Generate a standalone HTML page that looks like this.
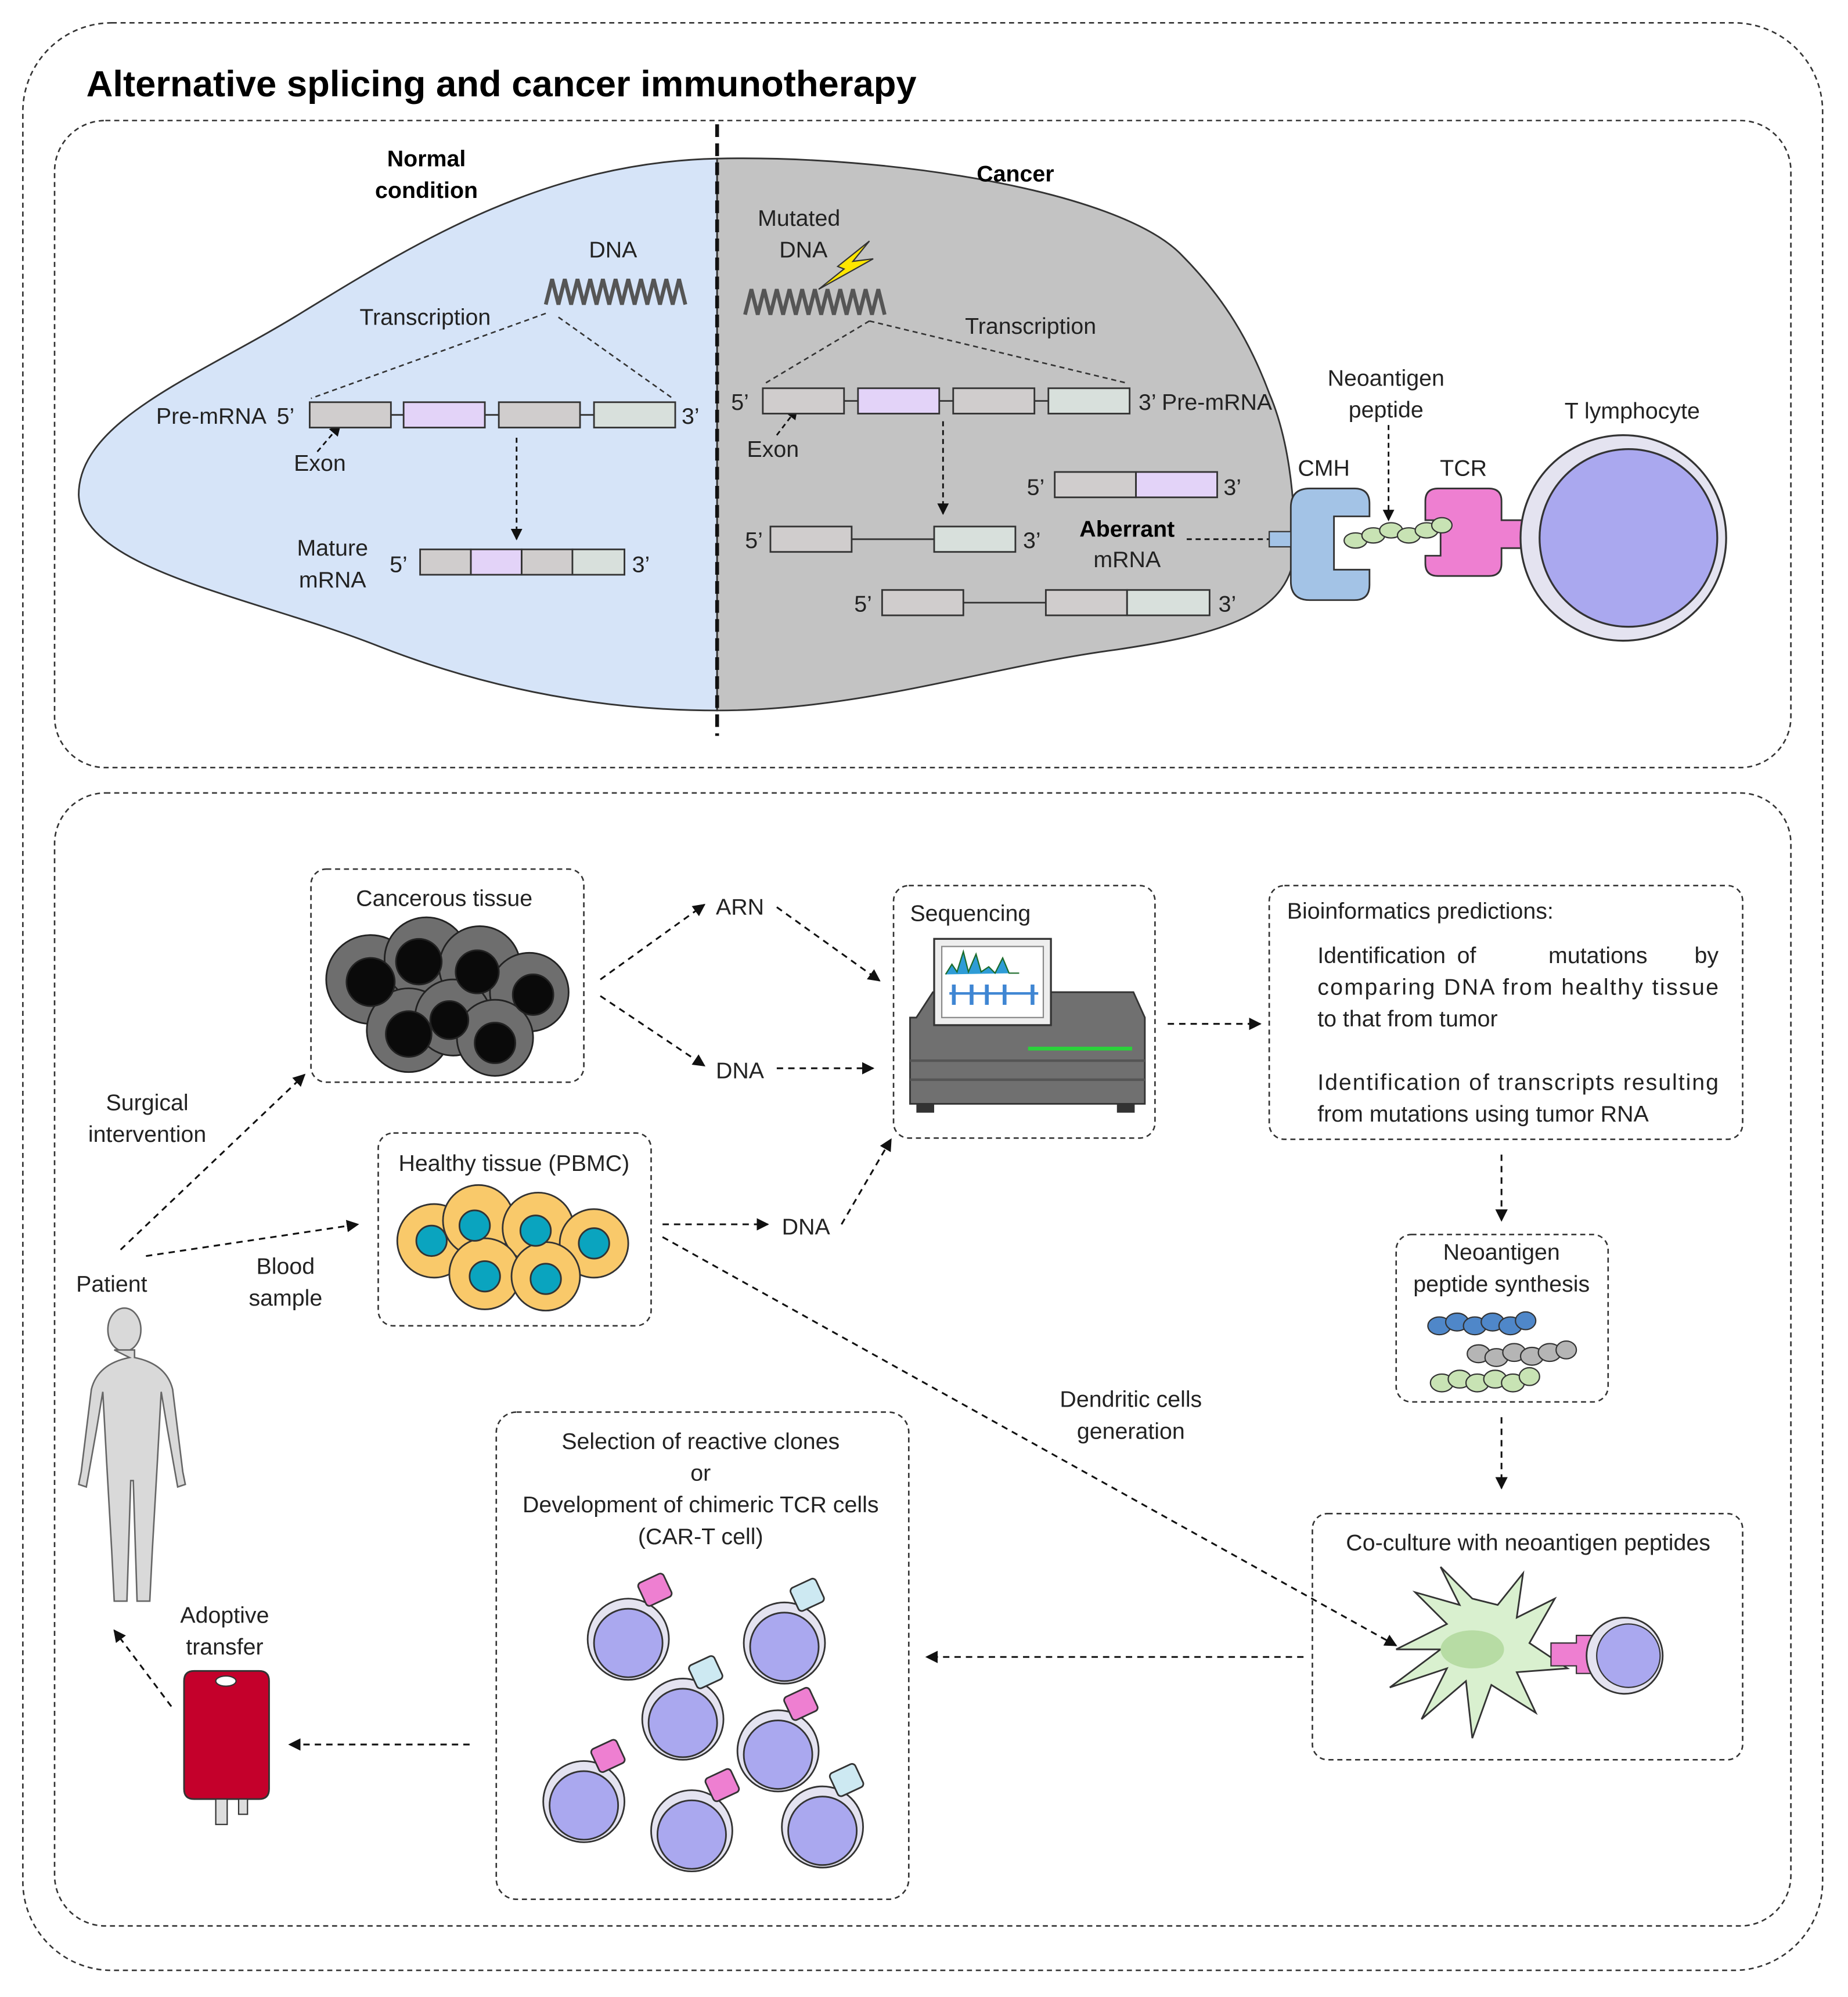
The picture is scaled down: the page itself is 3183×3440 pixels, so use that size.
<!DOCTYPE html>
<html><head><meta charset="utf-8"><style>
html,body{margin:0;padding:0;background:#fff}
svg{display:block}
text{font-family:"Liberation Sans",sans-serif;fill:#222}
</style></head><body>
<svg width="3183" height="3440" viewBox="0 0 1456 1574" preserveAspectRatio="none" xmlns="http://www.w3.org/2000/svg">
<defs>
<marker id="ah" viewBox="0 0 10 10" refX="9" refY="5" markerWidth="7" markerHeight="7" orient="auto"><path d="M0,0 L10,5 L0,10 z" fill="#111"/></marker>
</defs>
<g fill="none" stroke="#333" stroke-width="1.2" stroke-dasharray="4,3">
<rect x="18" y="18" width="1418" height="1535" rx="70"/>
<rect x="43" y="95" width="1368" height="510" rx="40"/>
<rect x="43" y="625" width="1368" height="893" rx="40"/>
</g>
<text x="68" y="76" font-size="29" font-weight="bold" style="fill:#000">Alternative splicing and cancer immunotherapy</text>

<path d="M565,125 C430,128 330,190 240,245 C160,295 62,330 62,390 C64,450 200,470 300,510 C390,545 480,560 565,560 Z" fill="#d6e4f8" stroke="#333" stroke-width="1.3"/>
<path d="M565,125 C700,122 880,150 930,200 C965,235 985,270 1000,310 C1015,345 1020,390 1020,430 C1020,485 960,500 880,512 C780,525 680,560 565,560 Z" fill="#c3c3c3" stroke="#333" stroke-width="1.3"/>
<line x1="565" y1="98" x2="565" y2="580" stroke="#111" stroke-width="3" stroke-dasharray="10,5"/>

<g font-size="18">
<text x="336" y="131" text-anchor="middle" font-weight="bold" style="fill:#000">Normal</text>
<text x="336" y="156" text-anchor="middle" font-weight="bold" style="fill:#000">condition</text>
<text x="800" y="143" text-anchor="middle" font-weight="bold" style="fill:#000">Cancer</text>
<text x="483" y="203" text-anchor="middle">DNA</text>
<text x="335" y="256" text-anchor="middle">Transcription</text>
<text x="123" y="334">Pre-mRNA</text><text x="218" y="334">5’</text><text x="537" y="334">3’</text>
<text x="252" y="371" text-anchor="middle">Exon</text>
<text x="262" y="438" text-anchor="middle">Mature</text>
<text x="262" y="463" text-anchor="middle">mRNA</text>
<text x="307" y="451">5’</text><text x="498" y="451">3’</text>
<text x="597" y="178">Mutated</text><text x="614" y="203">DNA</text>
<text x="812" y="263" text-anchor="middle">Transcription</text>
<text x="576" y="323">5’</text><text x="897" y="323">3’ Pre-mRNA</text>
<text x="609" y="360" text-anchor="middle">Exon</text>
<text x="809" y="390">5’</text><text x="964" y="390">3’</text>
<text x="587" y="432">5’</text><text x="806" y="432">3’</text>
<text x="888" y="423" text-anchor="middle" font-weight="bold" style="fill:#000">Aberrant</text>
<text x="888" y="447" text-anchor="middle">mRNA</text>
<text x="673" y="482">5’</text><text x="960" y="482">3’</text>
<text x="1092" y="304" text-anchor="middle">Neoantigen</text>
<text x="1092" y="329" text-anchor="middle">peptide</text>
<text x="1286" y="330" text-anchor="middle">T lymphocyte</text>
<text x="1043" y="375" text-anchor="middle">CMH</text>
<text x="1153" y="375" text-anchor="middle">TCR</text>
</g>

<path d="M430,240 l5,-20 l5,20 l5,-20 l5,20 l5,-20 l5,20 l5,-20 l5,20 l5,-20 l5,20 l5,-20 l5,20 l5,-20 l5,20 l5,-20 l5,20 l5,-20 l5,20 l5,-20 l5,20 l5,-20 l5,20" fill="none" stroke="#555" stroke-width="3"/>
<path d="M587,248 l5,-20 l5,20 l5,-20 l5,20 l5,-20 l5,20 l5,-20 l5,20 l5,-20 l5,20 l5,-20 l5,20 l5,-20 l5,20 l5,-20 l5,20 l5,-20 l5,20 l5,-20 l5,20 l5,-20 l5,20" fill="none" stroke="#555" stroke-width="3"/>
<path d="M660,210 L685,190 L672,206 L688,204 L645,228 L665,212 Z" fill="#ffe600" stroke="#333" stroke-width="1"/>

<g stroke="#333" stroke-width="1.2" fill="none" stroke-dasharray="4,3">
<line x1="430" y1="247" x2="245" y2="314"/><line x1="440" y1="250" x2="530" y2="314"/>
<line x1="685" y1="253" x2="603" y2="302"/><line x1="685" y1="253" x2="888" y2="302"/>
</g>
<g stroke="#111" stroke-width="1.3" fill="none" stroke-dasharray="4,3">
<line x1="407" y1="345" x2="407" y2="425" marker-end="url(#ah)"/>
<line x1="743" y1="332" x2="743" y2="405" marker-end="url(#ah)"/>
<line x1="250" y1="356" x2="268" y2="335" marker-end="url(#ah)"/>
<line x1="612" y1="343" x2="628" y2="322" marker-end="url(#ah)"/>
<line x1="935" y1="425" x2="1037" y2="425" marker-end="url(#ah)"/>
<line x1="1094" y1="335" x2="1094" y2="410" marker-end="url(#ah)"/>
</g>

<g stroke="#333" stroke-width="1.3">
<line x1="244" y1="327" x2="532" y2="327"/>
<rect x="244" y="317" width="64" height="20" fill="#d0cdcd"/><rect x="318" y="317" width="64" height="20" fill="#e3d3f8"/>
<rect x="393" y="317" width="64" height="20" fill="#d0cdcd"/><rect x="468" y="317" width="64" height="20" fill="#d8e0dc"/>
<rect x="331" y="433" width="40" height="20" fill="#d0cdcd"/><rect x="371" y="433" width="40" height="20" fill="#e3d3f8"/>
<rect x="411" y="433" width="40" height="20" fill="#d0cdcd"/><rect x="451" y="433" width="41" height="20" fill="#d8e0dc"/>
<line x1="601" y1="316" x2="890" y2="316"/>
<rect x="601" y="306" width="64" height="20" fill="#d0cdcd"/><rect x="676" y="306" width="64" height="20" fill="#e3d3f8"/>
<rect x="751" y="306" width="64" height="20" fill="#d0cdcd"/><rect x="826" y="306" width="64" height="20" fill="#d8e0dc"/>
<rect x="831" y="372" width="64" height="20" fill="#d0cdcd"/><rect x="895" y="372" width="64" height="20" fill="#e3d3f8"/>
<line x1="607" y1="425" x2="800" y2="425"/>
<rect x="607" y="415" width="64" height="20" fill="#d0cdcd"/><rect x="736" y="415" width="64" height="20" fill="#d8e0dc"/>
<line x1="695" y1="475" x2="953" y2="475"/>
<rect x="695" y="465" width="64" height="20" fill="#d0cdcd"/><rect x="824" y="465" width="64" height="20" fill="#d0cdcd"/><rect x="888" y="465" width="65" height="20" fill="#d8e0dc"/>
</g>

<path d="M1017,400 q0,-15 15,-15 h35 q12,0 12,12 v10 h-28 v42 h28 v12 q0,12 -12,12 h-35 q-15,0 -15,-15 z" fill="#a3c3e6" stroke="#333" stroke-width="1.3"/>
<rect x="1000" y="419" width="17" height="12" fill="#a3c3e6" stroke="#333"/>
<path d="M1123,395 q0,-10 10,-10 h40 q10,0 10,10 v15 h25 v22 h-25 v12 q0,10 -10,10 h-40 q-10,0 -10,-10 v-6 h12 v-28 h-12 z" fill="#ee7fd1" stroke="#333" stroke-width="1.3"/>
<g fill="#c8e3b4" stroke="#333" stroke-width="1">
<ellipse cx="1068" cy="426" rx="9" ry="6"/><ellipse cx="1082" cy="422" rx="9" ry="6"/><ellipse cx="1096" cy="418" rx="9" ry="6"/><ellipse cx="1110" cy="422" rx="9" ry="6"/><ellipse cx="1124" cy="418" rx="9" ry="6"/><ellipse cx="1136" cy="414" rx="8" ry="6"/>
</g>
<circle cx="1279" cy="424" r="81" fill="#e4e3f0" stroke="#333" stroke-width="1.5"/>
<circle cx="1283" cy="424" r="70" fill="#aaa8ef" stroke="#333" stroke-width="1.5"/>

<g fill="none" stroke="#333" stroke-width="1.2" stroke-dasharray="4,3">
<rect x="245" y="685" width="215" height="168" rx="12"/>
<rect x="704" y="698" width="206" height="199" rx="12"/>
<rect x="1000" y="698" width="373" height="200" rx="12"/>
<rect x="298" y="893" width="215" height="152" rx="12"/>
<rect x="1100" y="973" width="167" height="132" rx="12"/>
<rect x="1034" y="1193" width="339" height="194" rx="12"/>
<rect x="391" y="1113" width="325" height="384" rx="16"/>
</g>
<g font-size="18">
<text x="350" y="714" text-anchor="middle">Cancerous tissue</text>
<text x="717" y="726">Sequencing</text>
<text x="1014" y="724">Bioinformatics predictions:</text>
<text x="1038" y="759">Identification</text><text x="1148" y="759">of</text><text x="1220" y="759">mutations</text><text x="1354" y="759" text-anchor="end">by</text>
<text x="1038" y="784" textLength="316" lengthAdjust="spacing">comparing DNA from healthy tissue</text>
<text x="1038" y="809">to that from tumor</text>
<text x="1038" y="859" textLength="316" lengthAdjust="spacing">Identification of transcripts resulting</text>
<text x="1038" y="884">from mutations using tumor RNA</text>
<text x="405" y="923" text-anchor="middle">Healthy tissue (PBMC)</text>
<text x="1183" y="993" text-anchor="middle">Neoantigen</text>
<text x="1183" y="1018" text-anchor="middle">peptide synthesis</text>
<text x="1204" y="1222" text-anchor="middle">Co-culture with neoantigen peptides</text>
<text x="552" y="1142" text-anchor="middle">Selection of reactive clones</text>
<text x="552" y="1167" text-anchor="middle">or</text>
<text x="552" y="1192" text-anchor="middle">Development of chimeric TCR cells</text>
<text x="552" y="1217" text-anchor="middle">(CAR-T cell)</text>
<text x="583" y="721" text-anchor="middle">ARN</text>
<text x="583" y="850" text-anchor="middle">DNA</text>
<text x="635" y="973" text-anchor="middle">DNA</text>
<text x="116" y="875" text-anchor="middle">Surgical</text>
<text x="116" y="900" text-anchor="middle">intervention</text>
<text x="225" y="1004" text-anchor="middle">Blood</text>
<text x="225" y="1029" text-anchor="middle">sample</text>
<text x="88" y="1018" text-anchor="middle">Patient</text>
<text x="891" y="1109" text-anchor="middle">Dendritic cells</text>
<text x="891" y="1134" text-anchor="middle">generation</text>
<text x="177" y="1279" text-anchor="middle">Adoptive</text>
<text x="177" y="1304" text-anchor="middle">transfer</text>
</g>

<g stroke="#111" stroke-width="1.4" fill="none" stroke-dasharray="5,4">
<line x1="95" y1="985" x2="240" y2="847" marker-end="url(#ah)"/>
<line x1="115" y1="990" x2="282" y2="965" marker-end="url(#ah)"/>
<line x1="473" y1="772" x2="555" y2="713" marker-end="url(#ah)"/>
<line x1="473" y1="785" x2="555" y2="840" marker-end="url(#ah)"/>
<line x1="612" y1="715" x2="693" y2="773" marker-end="url(#ah)"/>
<line x1="612" y1="842" x2="688" y2="842" marker-end="url(#ah)"/>
<line x1="522" y1="965" x2="605" y2="965" marker-end="url(#ah)"/>
<line x1="663" y1="965" x2="702" y2="898" marker-end="url(#ah)"/>
<line x1="920" y1="807" x2="993" y2="807" marker-end="url(#ah)"/>
<line x1="1183" y1="910" x2="1183" y2="962" marker-end="url(#ah)"/>
<line x1="1183" y1="1117" x2="1183" y2="1173" marker-end="url(#ah)"/>
<line x1="522" y1="975" x2="1100" y2="1297" marker-end="url(#ah)"/>
<line x1="1027" y1="1306" x2="730" y2="1306" marker-end="url(#ah)"/>
<line x1="370" y1="1375" x2="228" y2="1375" marker-end="url(#ah)"/>
<line x1="135" y1="1345" x2="90" y2="1285" marker-end="url(#ah)"/>
</g>

<g stroke="#222" stroke-width="1.3">
<g fill="#6e6e6e">
<circle cx="292" cy="772" r="35"/><circle cx="336" cy="756" r="33"/><circle cx="378" cy="762" r="32"/><circle cx="417" cy="782" r="31"/>
<circle cx="322" cy="812" r="33"/><circle cx="357" cy="802" r="30"/><circle cx="390" cy="818" r="30"/>
</g>
<g fill="#0a0a0a">
<circle cx="292" cy="774" r="19"/><circle cx="330" cy="758" r="18"/><circle cx="376" cy="766" r="17"/><circle cx="420" cy="784" r="16"/>
<circle cx="322" cy="815" r="18"/><circle cx="354" cy="804" r="15"/><circle cx="390" cy="822" r="16"/>
</g>
</g>
<g stroke="#333" stroke-width="1.3">
<g fill="#f9c96a">
<circle cx="342" cy="978" r="29"/><circle cx="377" cy="962" r="28"/><circle cx="424" cy="968" r="28"/><circle cx="468" cy="980" r="27"/>
<circle cx="382" cy="1004" r="28"/><circle cx="430" cy="1006" r="27"/>
</g>
<g fill="#0aa4bf"><circle cx="340" cy="978" r="12"/><circle cx="374" cy="966" r="12"/><circle cx="422" cy="970" r="12"/><circle cx="468" cy="980" r="12"/><circle cx="382" cy="1006" r="12"/><circle cx="430" cy="1008" r="12"/></g>
</g>
<path d="M722,802 L735,782 H893 L902,802 V870 H717 V802 Z" fill="#707070" stroke="#333" stroke-width="1.3"/>
<rect x="717" y="835" width="185" height="2" fill="#555"/><rect x="717" y="850" width="185" height="2" fill="#555"/>
<rect x="810" y="825" width="82" height="3" fill="#2bd13b"/>
<rect x="722" y="870" width="14" height="7" fill="#333"/><rect x="880" y="870" width="14" height="7" fill="#333"/>
<rect x="736" y="740" width="92" height="68" fill="#eee" stroke="#333" stroke-width="1.5"/>
<rect x="742" y="746" width="80" height="56" fill="#fff" stroke="#888"/>
<path d="M745,768 l5,-8 l4,6 l5,-16 l4,16 l6,-14 l4,14 l6,-4 l5,5 l6,-12 l5,12 l8,0" fill="#2e9cd6" stroke="#1b6b2a"/>
<g fill="#3f86d3"><rect x="750" y="776" width="3" height="16"/><rect x="764" y="776" width="3" height="16"/><rect x="776" y="776" width="3" height="16"/><rect x="790" y="776" width="3" height="16"/><rect x="812" y="776" width="3" height="16"/><rect x="748" y="782" width="70" height="2"/></g>
<g stroke="#333" stroke-width="1">
<g fill="#4f87c9"><ellipse cx="1134" cy="1045" rx="9" ry="7"/><ellipse cx="1148" cy="1042" rx="9" ry="7"/><ellipse cx="1162" cy="1045" rx="9" ry="7"/><ellipse cx="1176" cy="1042" rx="9" ry="7"/><ellipse cx="1190" cy="1045" rx="9" ry="7"/><ellipse cx="1202" cy="1041" rx="8" ry="7"/></g>
<g fill="#b5b5b5"><ellipse cx="1165" cy="1067" rx="9" ry="7"/><ellipse cx="1179" cy="1070" rx="9" ry="7"/><ellipse cx="1193" cy="1066" rx="9" ry="7"/><ellipse cx="1207" cy="1069" rx="9" ry="7"/><ellipse cx="1221" cy="1066" rx="9" ry="7"/><ellipse cx="1234" cy="1064" rx="8" ry="7"/></g>
<g fill="#c8e3b4"><ellipse cx="1136" cy="1090" rx="9" ry="7"/><ellipse cx="1150" cy="1087" rx="9" ry="7"/><ellipse cx="1164" cy="1090" rx="9" ry="7"/><ellipse cx="1178" cy="1087" rx="9" ry="7"/><ellipse cx="1192" cy="1090" rx="9" ry="7"/><ellipse cx="1205" cy="1085" rx="8" ry="7"/></g>
</g>
<path d="M1160,1260 L1135,1235 L1150,1265 L1115,1255 L1140,1280 L1100,1300 L1135,1300 L1095,1330 L1140,1315 L1120,1355 L1155,1325 L1160,1370 L1175,1328 L1210,1350 L1195,1318 L1235,1315 L1205,1295 L1225,1260 L1195,1275 L1200,1240 L1180,1265 Z" fill="#d9f0cf" stroke="#333" stroke-width="1.3"/>
<ellipse cx="1160" cy="1300" rx="25" ry="15" fill="#b7dca4"/>
<path d="M1222,1295 h20 v-6 h12 v30 h-12 v-6 h-20 z" fill="#ee7fd1" stroke="#333"/>
<circle cx="1280" cy="1305" r="30" fill="#e4e3f0" stroke="#333" stroke-width="1.3"/>
<circle cx="1283" cy="1305" r="25" fill="#aaa8ef" stroke="#333"/>
<g stroke="#333" stroke-width="1.3">
<g fill="#e4e3f0"><circle cx="495" cy="1292" r="32"/><circle cx="618" cy="1295" r="32"/><circle cx="538" cy="1355" r="32"/><circle cx="613" cy="1380" r="32"/><circle cx="460" cy="1420" r="32"/><circle cx="545" cy="1443" r="32"/><circle cx="648" cy="1440" r="32"/></g>
<g fill="#aaa8ef"><circle cx="495" cy="1295" r="27"/><circle cx="618" cy="1298" r="27"/><circle cx="538" cy="1358" r="27"/><circle cx="613" cy="1383" r="27"/><circle cx="460" cy="1423" r="27"/><circle cx="545" cy="1446" r="27"/><circle cx="648" cy="1443" r="27"/></g>
<g fill="#ee7fd1"><rect x="505" y="1243" width="22" height="20" rx="3" transform="rotate(-25 516 1253)"/><rect x="620" y="1333" width="22" height="20" rx="3" transform="rotate(-25 631 1343)"/><rect x="468" y="1374" width="22" height="20" rx="3" transform="rotate(-25 479 1384)"/><rect x="558" y="1397" width="22" height="20" rx="3" transform="rotate(-25 569 1407)"/></g>
<g fill="#cde9f2"><rect x="625" y="1247" width="22" height="20" rx="3" transform="rotate(-25 636 1257)"/><rect x="545" y="1308" width="22" height="20" rx="3" transform="rotate(-25 556 1318)"/><rect x="656" y="1393" width="22" height="20" rx="3" transform="rotate(-25 667 1403)"/></g>
</g>
<g fill="#d9d9d9" stroke="#666" stroke-width="1.2">
<ellipse cx="98" cy="1048" rx="13" ry="17"/>
<path d="M90,1064 h16 v6 q25,5 30,25 l8,65 l2,10 l-6,2 l-8,-45 l-5,-30 l-3,55 l-4,70 l-2,40 l-10,0 l-3,-95 l-2,0 l-3,95 l-10,0 l-2,-40 l-4,-70 l-3,-55 l-5,30 l-8,45 l-6,-2 l2,-10 l8,-65 q5,-20 30,-25 z"/>
</g>
<path d="M145,1325 q0,-8 8,-8 h51 q8,0 8,8 v85 q0,8 -8,8 h-51 q-8,0 -8,-8 z" fill="#c4002b" stroke="#333" stroke-width="1.3"/>
<ellipse cx="178" cy="1325" rx="8" ry="4" fill="#fff" stroke="#333"/>
<rect x="170" y="1418" width="9" height="20" fill="#ddd" stroke="#333"/><rect x="188" y="1418" width="7" height="12" fill="#ddd" stroke="#333"/>
</svg>
</body></html>
